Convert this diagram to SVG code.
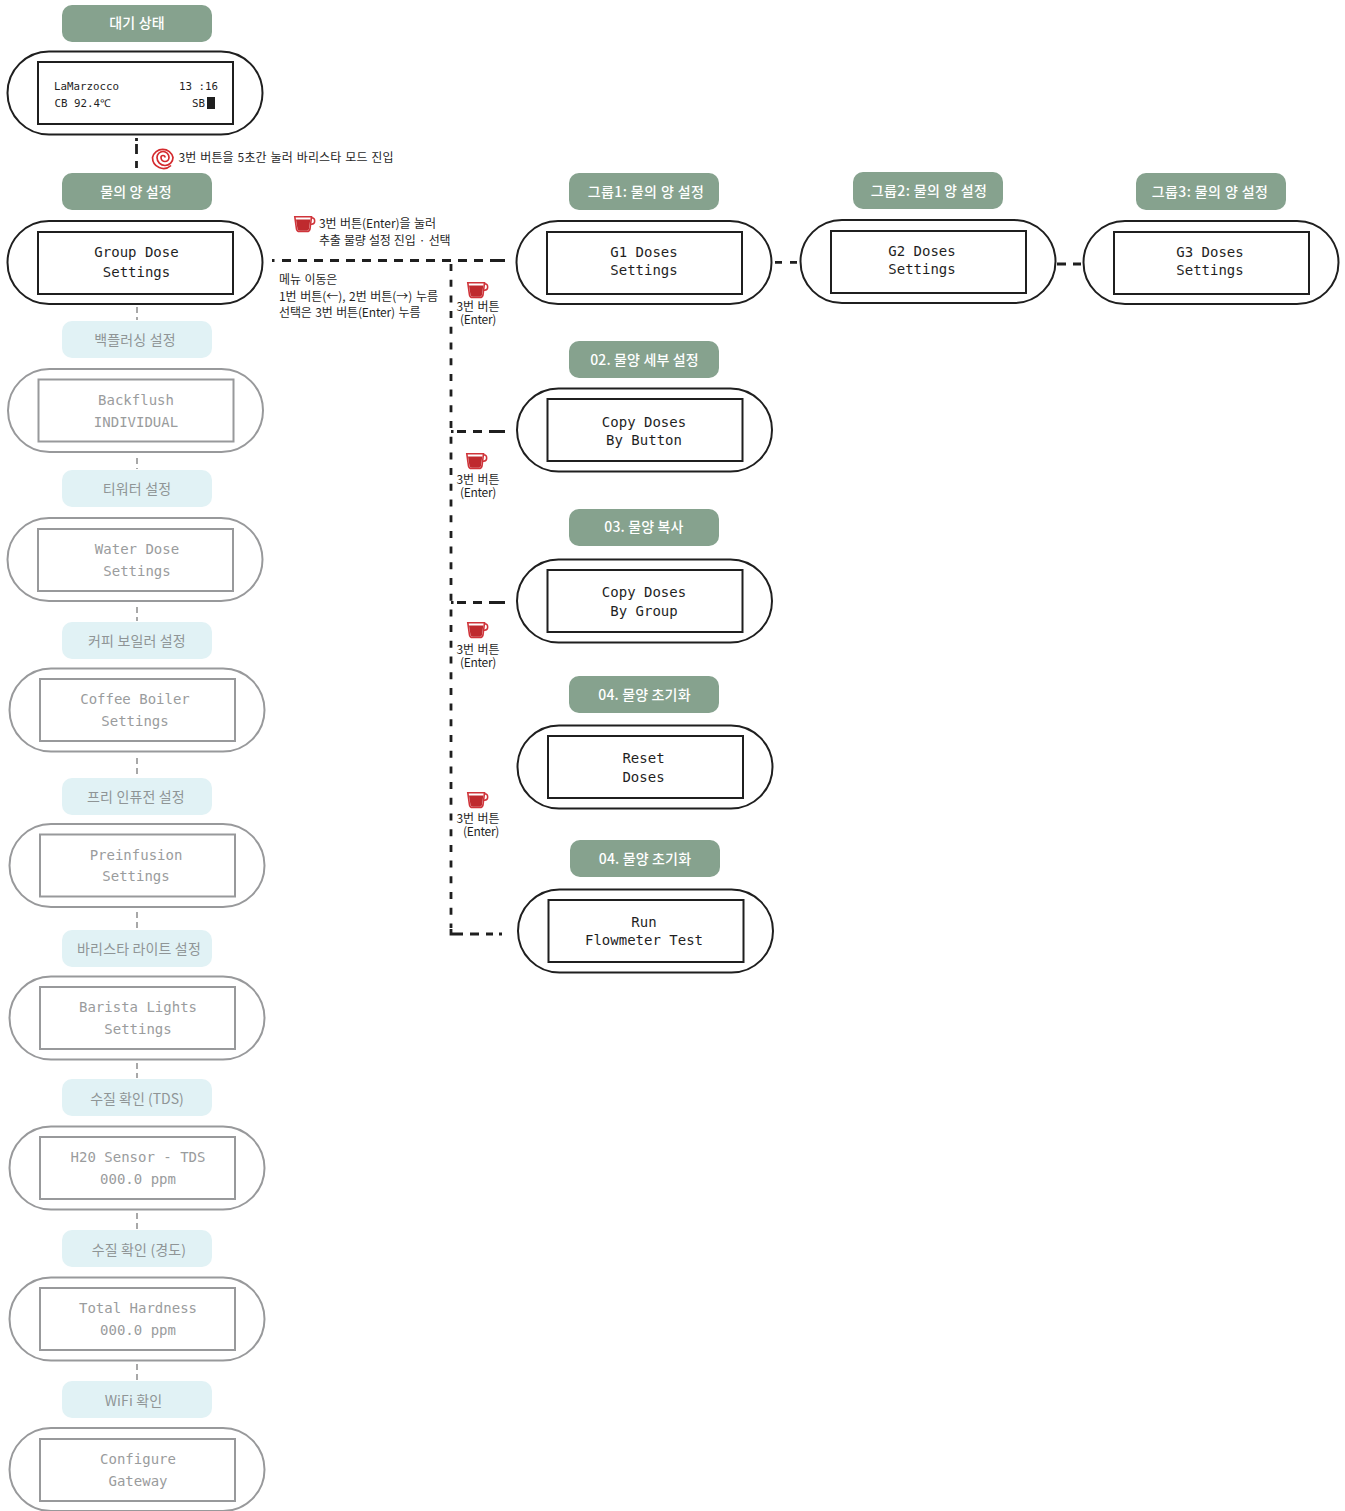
<svg xmlns="http://www.w3.org/2000/svg" width="1345" height="1511" viewBox="0 0 1345 1511">
<style>
.kr{font-family:"Noto Sans CJK KR","Noto Sans",sans-serif}
.lab{font-size:14px;font-weight:500;text-anchor:middle;letter-spacing:.15px}
.g{fill:#86a28e}.g+text{fill:#fff}
.l{fill:#e1f2f5}.l+text{fill:#8f9596;font-weight:400}
.pill{fill:#fff;stroke:#1f1f1f;stroke-width:2}
.box{fill:#fff;stroke:#1f1f1f;stroke-width:2}
.mono{font-family:"DejaVu Sans Mono","Liberation Mono",monospace;font-size:14px;text-anchor:middle;fill:#1f1f1f}
.sm{font-size:10.800px}
.off .pill{stroke:#98999b}.off .box{stroke:#98999b}.off .mono{fill:#9a9c9d}
.note{font-size:12px;fill:#1f1f1f;letter-spacing:-.1px;word-spacing:1px}
.ent{letter-spacing:-.3px}
.mid{text-anchor:middle}
.solid{fill:none;stroke:#1f1f1f;stroke-width:2.800}
.d1{fill:none;stroke:#1f1f1f;stroke-width:2.800;stroke-dasharray:9 7}
.d2{fill:none;stroke:#1f1f1f;stroke-width:2.800;stroke-dasharray:7 8.700}
.d3{fill:none;stroke:#8c8c8c;stroke-width:1.500;stroke-dasharray:6 4}
</style>
<defs>
<g id="cup">
<circle cx="17.500" cy="5" r="3.200" fill="none" stroke="#d0343a" stroke-width="1.500"/>
<path d="M.8 .8H17.500L16 13Q15.500 15.500 13 15.500H5.500Q3 15.500 2.500 13Z" fill="#fff" stroke="#d0343a" stroke-width="1.600"/>
<path d="M2 3.500H16.300L15 13Q14.500 14.800 12.800 14.800H5.700Q4 14.800 3.500 13Z" fill="#bf2a2e"/>
</g>
</defs>
<g id="connectors">
<path class="solid" d="M136.500 138V141M136.500 144V154M136.500 161V168"/>
<path class="d2" d="M451 264V928"/>
<path class="solid" d="M272 260.500H274.500M490 260.500H505M451 929V934H463M470 934H479M486 934H493M499 934H502M451 431.500H453.500M489 431.500H505M451 602.500H453.500M489 602.500H505M775 262.300H782M790 262.300H797M1057 264H1066M1073 264H1081"/>
<path class="d1" d="M282 260.500H490M457 431.500H489M457 602.500H489"/>
<path class="d3" d="M137 307V320M137 458V469M137 607V621M137 758V776M137 912V929M137 1063V1078M137 1213V1229M137 1364V1380"/>
</g>
<g id="n-standby"><rect class="g" x="62" y="5" width="150" height="37" rx="10"/><text class="kr lab" x="137" y="27.500">대기 상태</text>
<rect class="pill" x="7.500" y="51.500" width="255" height="83" rx="41.500"/><rect class="box" x="38" y="62" width="195" height="62"/>
<text class="mono sm" style="text-anchor:start" x="54" y="90">LaMarzocco</text><text class="mono sm" style="text-anchor:end" x="218" y="90">13 :16</text>
<text class="mono sm" style="text-anchor:start" x="54.500" y="107">CB 92.4℃</text><text class="mono sm" style="text-anchor:end" x="205" y="107">SB</text><rect x="207" y="97" width="8" height="12" fill="#1f1f1f"/></g>
<g id="n-group-dose"><rect class="g" x="62" y="173" width="150" height="37" rx="10"/><text class="kr lab" x="136" y="196.500">물의 양 설정</text>
<rect class="pill" x="7.500" y="221" width="255" height="83" rx="41.500"/><rect class="box" x="38" y="232" width="195" height="62"/>
<text class="mono" x="136.500" y="257">Group Dose</text><text class="mono" x="136.500" y="277">Settings</text></g>
<g id="n-backflush" class="off"><rect class="l" x="62" y="321" width="150" height="37" rx="10"/><text class="kr lab" x="135" y="345">백플러싱 설정</text>
<rect class="pill" x="8" y="369" width="255" height="83" rx="41.500"/><rect class="box" x="38.500" y="379.500" width="195" height="62"/>
<text class="mono" x="136" y="405">Backflush</text><text class="mono" x="136" y="427">INDIVIDUAL</text></g>
<g id="n-water" class="off"><rect class="l" x="62" y="470" width="150" height="37" rx="10"/><text class="kr lab" x="137" y="494">티워터 설정</text>
<rect class="pill" x="7.500" y="518" width="255" height="83" rx="41.500"/><rect class="box" x="38" y="529" width="195" height="62"/>
<text class="mono" x="137" y="554">Water Dose</text><text class="mono" x="137" y="576">Settings</text></g>
<g id="n-coffee" class="off"><rect class="l" x="62" y="622" width="150" height="37" rx="10"/><text class="kr lab" x="137" y="646">커피 보일러 설정</text>
<rect class="pill" x="9.500" y="668.500" width="255" height="83" rx="41.500"/><rect class="box" x="40" y="679" width="195" height="62"/>
<text class="mono" x="135" y="704">Coffee Boiler</text><text class="mono" x="135" y="726">Settings</text></g>
<g id="n-preinfusion" class="off"><rect class="l" x="62" y="778" width="150" height="37" rx="10"/><text class="kr lab" x="136" y="802">프리 인퓨전 설정</text>
<rect class="pill" x="9.500" y="824" width="255" height="83" rx="41.500"/><rect class="box" x="40" y="834.500" width="195" height="62"/>
<text class="mono" x="136" y="860">Preinfusion</text><text class="mono" x="136" y="881">Settings</text></g>
<g id="n-lights" class="off"><rect class="l" x="62" y="930" width="150" height="37" rx="10"/><text class="kr lab" x="139" y="954">바리스타 라이트 설정</text>
<rect class="pill" x="9.500" y="976.500" width="255" height="83" rx="41.500"/><rect class="box" x="40" y="987" width="195" height="62"/>
<text class="mono" x="138" y="1012">Barista Lights</text><text class="mono" x="138" y="1034">Settings</text></g>
<g id="n-tds" class="off"><rect class="l" x="62" y="1079" width="150" height="37" rx="10"/><text class="kr lab" x="137" y="1104" style="letter-spacing:0">수질 확인 (TDS)</text>
<rect class="pill" x="9.500" y="1126.500" width="255" height="83" rx="41.500"/><rect class="box" x="40" y="1137" width="195" height="62"/>
<text class="mono" x="138" y="1162">H20 Sensor - TDS</text><text class="mono" x="138" y="1184">000.0 ppm</text></g>
<g id="n-hardness" class="off"><rect class="l" x="62" y="1230" width="150" height="37" rx="10"/><text class="kr lab" x="139" y="1255">수질 확인 (경도)</text>
<rect class="pill" x="9.500" y="1277.500" width="255" height="83" rx="41.500"/><rect class="box" x="40" y="1288" width="195" height="62"/>
<text class="mono" x="138" y="1313">Total Hardness</text><text class="mono" x="138" y="1335">000.0 ppm</text></g>
<g id="n-wifi" class="off"><rect class="l" x="62" y="1381" width="150" height="37" rx="10"/><text class="kr lab" x="133.500" y="1406">WiFi 확인</text>
<rect class="pill" x="9.500" y="1428" width="255" height="83" rx="41.500"/><rect class="box" x="40" y="1439" width="195" height="62"/>
<text class="mono" x="138" y="1464">Configure</text><text class="mono" x="138" y="1486">Gateway</text></g>
<g id="n-g1"><rect class="g" x="569" y="173" width="150" height="37" rx="10"/><text class="kr lab" x="646" y="196.500" style="letter-spacing:.4px">그룹1: 물의 양 설정</text>
<rect class="pill" x="516.500" y="221" width="255" height="83" rx="41.500"/><rect class="box" x="547" y="232" width="195" height="62"/>
<text class="mono" x="644" y="257">G1 Doses</text><text class="mono" x="644" y="275">Settings</text></g>
<g id="n-g2"><rect class="g" x="853" y="172" width="150" height="37" rx="10"/><text class="kr lab" x="929" y="195.500" style="letter-spacing:.4px">그룹2: 물의 양 설정</text>
<rect class="pill" x="800.500" y="220" width="255" height="83" rx="41.500"/><rect class="box" x="831" y="231" width="195" height="62"/>
<text class="mono" x="922" y="256">G2 Doses</text><text class="mono" x="922" y="274">Settings</text></g>
<g id="n-g3"><rect class="g" x="1136" y="173" width="150" height="37" rx="10"/><text class="kr lab" x="1210" y="196.500" style="letter-spacing:.4px">그룹3: 물의 양 설정</text>
<rect class="pill" x="1083.500" y="221" width="255" height="83" rx="41.500"/><rect class="box" x="1114" y="232" width="195" height="62"/>
<text class="mono" x="1210" y="257">G3 Doses</text><text class="mono" x="1210" y="275">Settings</text></g>
<g id="n-copy-button"><rect class="g" x="569" y="341" width="150" height="37" rx="10"/><text class="kr lab" x="644.500" y="364.500">02. 물양 세부 설정</text>
<rect class="pill" x="517" y="388.500" width="255" height="83" rx="41.500"/><rect class="box" x="547.500" y="399" width="195" height="62"/>
<text class="mono" x="644" y="427">Copy Doses</text><text class="mono" x="644" y="445">By Button</text></g>
<g id="n-copy-group"><rect class="g" x="569" y="509" width="150" height="37" rx="10"/><text class="kr lab" x="644" y="531.500">03. 물양 복사</text>
<rect class="pill" x="517" y="559.500" width="255" height="83" rx="41.500"/><rect class="box" x="547.500" y="570" width="195" height="62"/>
<text class="mono" x="644" y="597">Copy Doses</text><text class="mono" x="644" y="616">By Group</text></g>
<g id="n-reset"><rect class="g" x="569" y="676" width="150" height="37" rx="10"/><text class="kr lab" x="644.500" y="699.500">04. 물양 초기화</text>
<rect class="pill" x="517.500" y="725.500" width="255" height="83" rx="41.500"/><rect class="box" x="548" y="736" width="195" height="62"/>
<text class="mono" x="643.500" y="763">Reset</text><text class="mono" x="643.500" y="782">Doses</text></g>
<g id="n-flowmeter"><rect class="g" x="570" y="840" width="150" height="37" rx="10"/><text class="kr lab" x="645" y="863.500">04. 물양 초기화</text>
<rect class="pill" x="518" y="889.500" width="255" height="83" rx="41.500"/><rect class="box" x="548.500" y="900" width="195" height="62"/>
<text class="mono" x="644" y="927">Run</text><text class="mono" x="644" y="945">Flowmeter Test</text></g>
<g id="notes">
<path d="M165 157.500A2 2 0 0 0 161 157.500A4 4 0 0 0 169 157.500A6 6 0 0 0 157 157.500A8 8 0 0 0 173 157.500A10.500 10.500 0 0 0 152.500 157.500A11 11 0 0 0 171 165.500" fill="none" stroke="#d42a2e" stroke-width="1.700"/>
<text class="kr note" style="letter-spacing:.13px" x="178.500" y="161.500">3번 버튼을 5초간 눌러 바리스타 모드 진입</text>
<use href="#cup" x="294" y="216"/>
<text class="kr note" x="319" y="228">3번 버튼(Enter)을 눌러</text>
<text class="kr note" x="319" y="244.500" style="letter-spacing:-.27px">추출 물량 설정 진입 · 선택</text>
<text class="kr note" x="279" y="284">메뉴 이동은</text>
<text class="kr note" x="279" y="300.500" style="letter-spacing:-.05px">1번 버튼(←), 2번 버튼(→) 누름</text>
<text class="kr note" x="279" y="317" style="letter-spacing:-.15px">선택은 3번 버튼(Enter) 누름</text>
<use href="#cup" x="467" y="282"/>
<text class="kr note mid"><tspan x="478" y="311">3번 버튼</tspan><tspan class="ent" x="478" y="324">(Enter)</tspan></text>
<use href="#cup" x="466" y="453"/>
<text class="kr note mid"><tspan x="478" y="484">3번 버튼</tspan><tspan class="ent" x="478" y="497">(Enter)</tspan></text>
<use href="#cup" x="467" y="622"/>
<text class="kr note mid"><tspan x="478" y="654">3번 버튼</tspan><tspan class="ent" x="478" y="667">(Enter)</tspan></text>
<use href="#cup" x="467" y="792"/>
<text class="kr note mid"><tspan x="478" y="823">3번 버튼</tspan><tspan class="ent" x="481" y="836">(Enter)</tspan></text>
</g>
</svg>
